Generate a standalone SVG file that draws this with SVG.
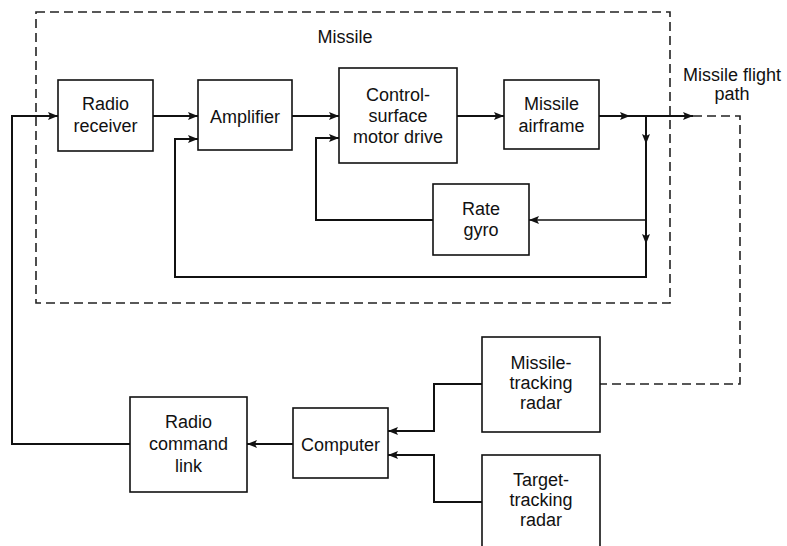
<svg xmlns="http://www.w3.org/2000/svg" width="787" height="546" viewBox="0 0 787 546">
<style>
.box{fill:#fff;stroke:#111;stroke-width:1.6}
.t{font-family:"Liberation Sans",Arial,sans-serif;font-size:18px;fill:#111;text-anchor:middle}
.c{fill:none;stroke:#111;stroke-width:2}
.thin{fill:none;stroke:#111;stroke-width:1.3}
.dash{fill:none;stroke:#222;stroke-width:1.6;stroke-dasharray:9 5}
</style>
<defs>
<marker id="ar" viewBox="0 0 10 8" refX="10" refY="4" markerWidth="10" markerHeight="8" markerUnits="userSpaceOnUse" orient="auto">
<path d="M0,0 L10,4 L0,8 L2,4 Z" fill="#111"/>
</marker>
</defs>
<rect class="dash" x="36" y="12" width="634" height="291"/>
<text class="t" x="345" y="43">Missile</text>
<g id="connectors">
<path class="c" d="M130 444 H12 V116 H58" marker-end="url(#ar)"/>
<path class="c" d="M153 116 H198" marker-end="url(#ar)"/>
<path class="c" d="M292 116 H339" marker-end="url(#ar)"/>
<path class="c" d="M457 116 H504" marker-end="url(#ar)"/>
<path class="c" d="M599 116 H630" marker-end="url(#ar)"/>
<path class="c" d="M628 116 H693" marker-end="url(#ar)"/>
<path class="dash" d="M693 116 H740 V384 H600"/>
<path class="c" d="M646 116 V144" marker-end="url(#ar)"/>
<path class="c" d="M646 142 V244" marker-end="url(#ar)"/>
<path class="c" d="M646 242 V277 H175 V139 H198" marker-end="url(#ar)"/>
<path class="thin" d="M646 220 H529" marker-end="url(#ar)"/>
<path class="c" d="M433 220 H316 V138 H339" marker-end="url(#ar)"/>
<path class="c" d="M293 444 H247" marker-end="url(#ar)"/>
<path class="c" d="M482 384 H434 V431 H388" marker-end="url(#ar)"/>
<path class="c" d="M482 502 H434 V455 H388" marker-end="url(#ar)"/>
</g>
<g id="radio-receiver">
<rect class="box" x="58" y="80" width="95" height="71"/>
<text class="t" x="105.5" y="110">Radio</text>
<text class="t" x="105.5" y="132">receiver</text>
</g>
<g id="amplifier">
<rect class="box" x="198" y="80" width="94" height="70"/>
<text class="t" x="245" y="123">Amplifier</text>
</g>
<g id="control-surface">
<rect class="box" x="339" y="68" width="118" height="95"/>
<text class="t" x="398" y="101">Control-</text>
<text class="t" x="398" y="122">surface</text>
<text class="t" x="398" y="143">motor drive</text>
</g>
<g id="missile-airframe">
<rect class="box" x="504" y="80" width="95" height="69"/>
<text class="t" x="551.5" y="110">Missile</text>
<text class="t" x="551.5" y="132">airframe</text>
</g>
<g id="rate-gyro">
<rect class="box" x="433" y="184" width="96" height="71"/>
<text class="t" x="481" y="215">Rate</text>
<text class="t" x="481" y="236">gyro</text>
</g>
<g id="flight-path">
<text class="t" x="732" y="81">Missile flight</text>
<text class="t" x="732" y="100">path</text>
</g>
<g id="radio-command-link">
<rect class="box" x="130" y="397" width="117" height="95"/>
<text class="t" x="188.5" y="428">Radio</text>
<text class="t" x="188.5" y="450">command</text>
<text class="t" x="188.5" y="472">link</text>
</g>
<g id="computer">
<rect class="box" x="293" y="408" width="95" height="70"/>
<text class="t" x="340.5" y="451">Computer</text>
</g>
<g id="missile-tracking-radar">
<rect class="box" x="482" y="337" width="118" height="95"/>
<text class="t" x="541" y="369">Missile-</text>
<text class="t" x="541" y="389">tracking</text>
<text class="t" x="541" y="409">radar</text>
</g>
<g id="target-tracking-radar">
<rect class="box" x="482" y="455" width="118" height="100"/>
<text class="t" x="541" y="486">Target-</text>
<text class="t" x="541" y="506">tracking</text>
<text class="t" x="541" y="526">radar</text>
</g>
</svg>
